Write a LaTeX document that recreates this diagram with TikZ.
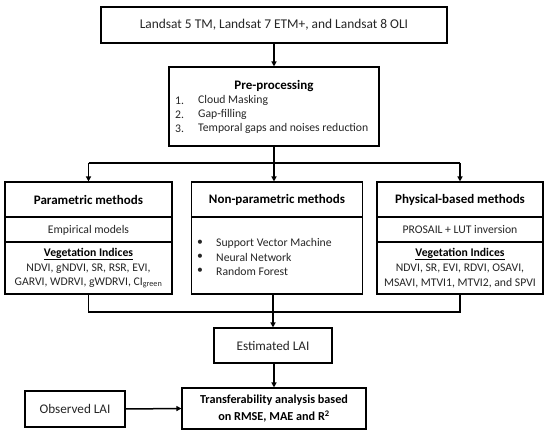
\documentclass[tikz,border=0pt]{standalone}
\usepackage{fontspec}
\setmainfont{Carlito}
\usetikzlibrary{arrows.meta,calc}
\begin{document}
\begin{tikzpicture}[x=1pt,y=-1pt,
  box/.style={draw=black,line width=1.1pt,fill=white,inner sep=0pt},
  divider/.style={line width=1.1pt,black},
  conn/.style={line width=1.5pt,black},
  arr/.style={conn,-{Triangle[length=5pt,width=5pt]}},
  txt/.style={inner sep=0pt,font=\fontsize{11.7}{14}\selectfont,text=black!85},
  big/.style={inner sep=0pt,font=\fontsize{13.2}{15}\selectfont,text=black!85},
  ttl/.style={inner sep=0pt,font=\fontsize{13}{15}\selectfont\bfseries,text=black},
  sub/.style={inner sep=0pt,font=\fontsize{11.7}{14}\selectfont\bfseries,text=black}]
\useasboundingbox (0,0) rectangle (550,435);
% boxes
\node[box,minimum width=346pt,minimum height=36pt] (top) at (274,25) {};
\node[big,font=\fontsize{13.4}{15}\selectfont] (toptxt) at (274,25) {Landsat 5 TM, Landsat 7 ETM+, and Landsat 8 OLI};
\node[box,minimum width=210pt,minimum height=79pt] (pre) at (274,106.5) {};
\node[ttl] (pretitle) at (274,86) {Pre-processing};
\node[txt,anchor=west] (p1n) at (175,100.5) {1.};
\node[txt,anchor=west] (p1) at (198,100.5) {Cloud Masking};
\node[txt,anchor=west] (p2n) at (175,114.5) {2.};
\node[txt,anchor=west] (p2) at (198,114.5) {Gap-filling};
\node[txt,anchor=west] (p3n) at (175,128.5) {3.};
\node[txt,anchor=west] (p3) at (198,128.5) {Temporal gaps and noises reduction};

\node[box,minimum width=167pt,minimum height=112pt] (par) at (88.5,238) {};
\draw[divider] (par.west |- 0,217) -- (par.east |- 0,217);
\draw[divider] (par.west |- 0,242) -- (par.east |- 0,242);
\node[ttl] (partitle) at (88.5,200) {Parametric methods};
\node[txt] (emp) at (88.5,230) {Empirical models};
\node[sub] (vi1) at (88.5,254) {\underline{Vegetation Indices}};
\node[txt] (vi1a) at (88.5,268.5) {NDVI, gNDVI, SR, RSR, EVI,};
\node[txt] (vi1b) at (88.5,283) {GARVI, WDRVI, gWDRVI, CI\textsubscript{green}};

\node[box,minimum width=171pt,minimum height=112pt] (non) at (277,238) {};
\draw[divider] (non.west |- 0,217) -- (non.east |- 0,217);
\node[ttl] (nontitle) at (277,200) {Non-parametric methods};
\node[txt] (b1) at (200,243) {•};
\node[txt,anchor=west] (n1) at (216,243) {Support Vector Machine};
\node[txt] (b2) at (200,257) {•};
\node[txt,anchor=west] (n2) at (216,257) {Neural Network};
\node[txt] (b3) at (200,271) {•};
\node[txt,anchor=west] (n3) at (216,271) {Random Forest};

\node[box,minimum width=166pt,minimum height=112pt] (phy) at (460,238) {};
\draw[divider] (phy.west |- 0,217) -- (phy.east |- 0,217);
\draw[divider] (phy.west |- 0,242) -- (phy.east |- 0,242);
\node[ttl] (phytitle) at (460,200) {Physical-based methods};
\node[txt] (pros) at (460,230) {PROSAIL + LUT inversion};
\node[sub] (vi2) at (460,254) {\underline{Vegetation Indices}};
\node[txt] (vi2a) at (460,268.5) {NDVI, SR, EVI, RDVI, OSAVI,};
\node[txt] (vi2b) at (460,283) {MSAVI, MTVI1, MTVI2, and SPVI};

\node[box,minimum width=118pt,minimum height=35pt] (est) at (273,345.5) {};
\node[big] (esttxt) at (273,345.5) {Estimated LAI};
\node[box,minimum width=184pt,minimum height=41pt] (tra) at (274,408.5) {};
\node[ttl,font=\fontsize{12.2}{17}\selectfont\bfseries,align=center] (tratxt) at (274,408.5) {Transferability analysis based\\on RMSE, MAE and R\textsuperscript{2}};
\node[box,minimum width=100pt,minimum height=36pt] (obs) at (75,409) {};
\node[big] (obstxt) at (75,409) {Observed LAI};

% junction coordinates
\coordinate (jl) at (88.5,163);
\coordinate (jr) at (460,163);
\coordinate (bl) at (88.5,312);
\coordinate (br) at (460,312);

% connectors
\draw[arr] (top.south -| pre.north) -- (pre.north);
\draw[arr] (pre.south) -- (pre.south |- non.north);
\draw[conn] (jl) -- (jr);
\draw[arr] (jl) -- (par.north);
\draw[arr] (jr) -- (phy.north);
\draw[conn] (par.south) -- (bl) -- (br) -- (phy.south);
\draw[arr] (non.south -| est.north) -- (est.north);
\draw[arr] (est.south -| tra.north) -- (tra.north);
\draw[arr] (obs.east) -- (tra.west);
\end{tikzpicture}
\end{document}
